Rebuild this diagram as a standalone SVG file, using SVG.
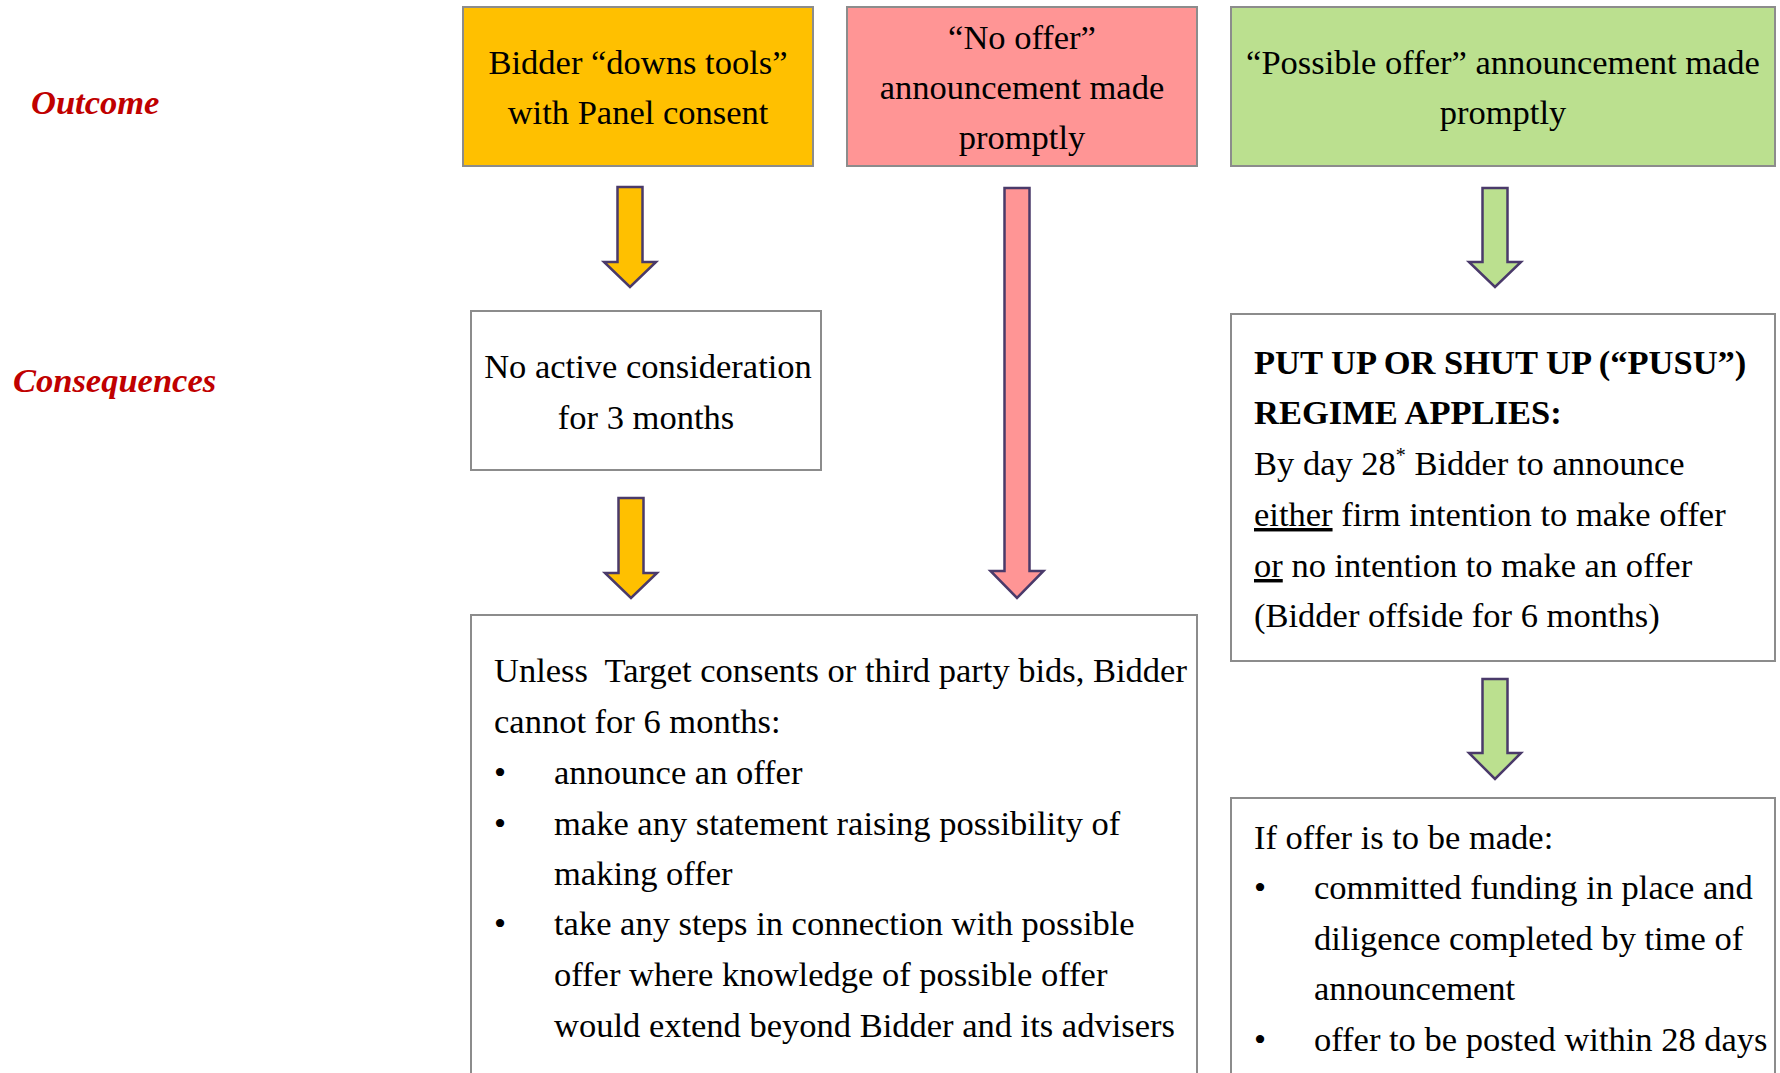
<svg xmlns="http://www.w3.org/2000/svg" width="1780" height="1073" viewBox="0 0 1780 1073">
<style>
.t{font-family:"Liberation Serif","Times New Roman",serif;font-size:34.5px;fill:#000}
.c{text-anchor:middle}
.b{font-weight:bold}
.lbl{font-family:"Liberation Serif","Times New Roman",serif;font-size:34.5px;font-weight:bold;font-style:italic;fill:#C00000}
.box{stroke:#8C8C8C;stroke-width:2}
.arr{stroke:#4A3A6A;stroke-width:2.5;stroke-linejoin:miter}
.u{text-decoration:underline}
.pre{white-space:pre}
</style>
<rect width="1780" height="1073" fill="#fff"/>
<text class="lbl" x="31" y="114">Outcome</text>
<text class="lbl" x="13" y="392">Consequences</text>

<g id="connectors">
<path class="arr" fill="#FFC000" d="M617.5 187 H642.5 V262 H656 L630 287 L604 262 H617.5 Z"/>
<path class="arr" fill="#FFC000" d="M618.5 498 H643.5 V573 H657 L631 598 L605 573 H618.5 Z"/>
<path class="arr" fill="#FF9595" d="M1004.5 188 H1029.5 V571 H1043.5 L1017 598 L990.5 571 H1004.5 Z"/>
<path class="arr" fill="#BBE08F" d="M1482.5 188 H1507.5 V262 H1521 L1495 287 L1469 262 H1482.5 Z"/>
<path class="arr" fill="#BBE08F" d="M1482.5 679 H1507.5 V753 H1521 L1495 779 L1469 753 H1482.5 Z"/>
</g>

<g id="box-downs-tools">
<rect class="box" x="463" y="7" width="350" height="159" fill="#FFC000"/>
<text class="t c" x="638" y="74">Bidder “downs tools”</text>
<text class="t c" x="638" y="124">with Panel consent</text>
</g>

<g id="box-no-offer">
<rect class="box" x="847" y="7" width="350" height="159" fill="#FF9595"/>
<text class="t c" x="1022" y="49">“No offer”</text>
<text class="t c" x="1022" y="99">announcement made</text>
<text class="t c" x="1022" y="149">promptly</text>
</g>

<g id="box-possible-offer">
<rect class="box" x="1231" y="7" width="544" height="159" fill="#BBE08F"/>
<text class="t c" x="1503" y="74">“Possible offer” announcement made</text>
<text class="t c" x="1503" y="124">promptly</text>
</g>

<g id="box-no-active">
<rect class="box" x="471" y="311" width="350" height="159" fill="#fff"/>
<text class="t c" x="648" y="378">No active consideration</text>
<text class="t c" x="646" y="429">for 3 months</text>
</g>

<g id="box-six-months">
<rect class="box" x="471" y="615" width="726" height="480" fill="#fff"/>
<text class="t pre" x="494" y="682">Unless  Target consents or third party bids, Bidder</text>
<text class="t" x="494" y="733">cannot for 6 months:</text>
<text class="t" x="494" y="784">•</text>
<text class="t" x="554" y="784">announce an offer</text>
<text class="t" x="494" y="835">•</text>
<text class="t" x="554" y="835">make any statement raising possibility of</text>
<text class="t" x="554" y="885">making offer</text>
<text class="t" x="494" y="935">•</text>
<text class="t" x="554" y="935">take any steps in connection with possible</text>
<text class="t" x="554" y="986">offer where knowledge of possible offer</text>
<text class="t" x="554" y="1037">would extend beyond Bidder and its advisers</text>
</g>

<g id="box-pusu">
<rect class="box" x="1231" y="314" width="544" height="347" fill="#fff"/>
<text class="t b" x="1254" y="374">PUT UP OR SHUT UP (“PUSU”)</text>
<text class="t b" x="1254" y="424">REGIME APPLIES:</text>
<text class="t" x="1254" y="475">By day 28<tspan font-size="20" dy="-13">*</tspan><tspan dy="13"> Bidder to announce</tspan></text>
<text class="t" x="1254" y="526"><tspan class="u">either</tspan> firm intention to make offer</text>
<text class="t" x="1254" y="577"><tspan class="u">or</tspan> no intention to make an offer</text>
<text class="t" x="1254" y="627">(Bidder offside for 6 months)</text>
</g>

<g id="box-if-offer">
<rect class="box" x="1231" y="798" width="544" height="300" fill="#fff"/>
<text class="t" x="1254" y="849">If offer is to be made:</text>
<text class="t" x="1254" y="899">•</text>
<text class="t" x="1314" y="899">committed funding in place and</text>
<text class="t" x="1314" y="950">diligence completed by time of</text>
<text class="t" x="1314" y="1000">announcement</text>
<text class="t" x="1254" y="1051">•</text>
<text class="t" x="1314" y="1051">offer to be posted within 28 days</text>
</g>
</svg>
